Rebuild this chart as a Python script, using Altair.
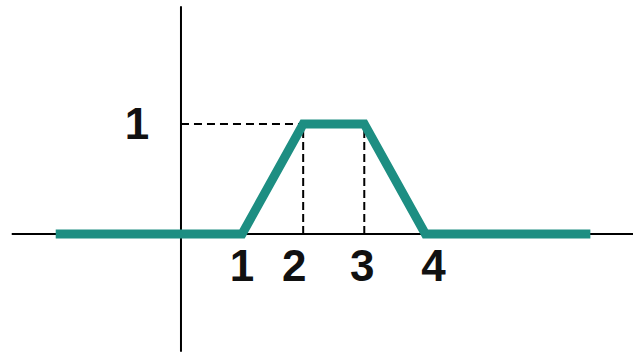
import altair as alt
import pandas as pd

# Trapezoidal membership function: (x, mu) corner points
mf_x = [-2.05, 1, 2, 3, 4, 6.7]
mf_y = [0, 0, 1, 1, 0, 0]

# Tick labels on the horizontal axis and on the vertical axis
x_ticks = [1, 2, 3, 4]
x_tick_labels = ["1", "2", "3", "4"]
y_ticks = [1]
y_tick_labels = ["1"]

# Guide lines from the plateau corners down to the axis and across to the y-axis
plateau_start, plateau_end, plateau_level = 2, 3, 1

# Visible extent of the drawn axes
X_DOMAIN = [-2.962, 7.398]
Y_DOMAIN = [-1.109, 2.127]
x_axis_span = (-2.77, 7.4)
y_axis_span = (-1.07, 2.07)

TEAL = "#1d8e82"
FONT = "Liberation Sans"

xs = alt.Scale(domain=X_DOMAIN, nice=False, zero=False)
ys = alt.Scale(domain=Y_DOMAIN, nice=False, zero=False)
X = lambda f: alt.X(f, type="quantitative", scale=xs, axis=None)
Y = lambda f: alt.Y(f, type="quantitative", scale=ys, axis=None)

axes_df = pd.DataFrame({
    "x": [x_axis_span[0], 0],
    "x2": [x_axis_span[1], 0],
    "y": [0, y_axis_span[0]],
    "y2": [0, y_axis_span[1]],
})
axes = alt.Chart(axes_df).mark_rule(color="black", strokeWidth=2).encode(
    x=X("x"), x2="x2", y=Y("y"), y2="y2"
)

guides_h = pd.DataFrame({"x": [0], "x2": [plateau_start], "y": [plateau_level], "y2": [plateau_level]})
guides_v = pd.DataFrame({
    "x": [plateau_start, plateau_end],
    "x2": [plateau_start, plateau_end],
    "y": [0, 0],
    "y2": [plateau_level, plateau_level],
})
dash_h = alt.Chart(guides_h).mark_rule(color="black", strokeWidth=2, strokeDash=[8, 5]).encode(
    x=X("x"), x2="x2", y=Y("y"), y2="y2"
)
dash_v = alt.Chart(guides_v).mark_rule(color="black", strokeWidth=2, strokeDash=[8, 4]).encode(
    x=X("x"), x2="x2", y=Y("y"), y2="y2"
)

mf_df = pd.DataFrame({"x": mf_x, "y": mf_y, "order": list(range(len(mf_x)))})
mf = alt.Chart(mf_df).mark_line(color=TEAL, strokeWidth=9, strokeJoin="miter", strokeCap="butt").encode(
    x=X("x"), y=Y("y"), order="order"
)

# Hand-set nudges of each x label relative to its tick
label_dx = [0, -9, -2, 8]
layers = [axes, dash_h, dash_v, mf]
for v, lab, dx in zip(x_ticks, x_tick_labels, label_dx):
    df = pd.DataFrame({"x": [v], "y": [0], "t": [lab]})
    layers.append(
        alt.Chart(df).mark_text(
            font=FONT, fontSize=44, fontWeight="bold", color="#111111",
            baseline="middle", align="center", dx=dx, dy=34,
        ).encode(x=X("x"), y=Y("y"), text="t")
    )

ydf = pd.DataFrame({"x": [0] * len(y_ticks), "y": y_ticks, "t": y_tick_labels})
layers.append(
    alt.Chart(ydf).mark_text(
        font=FONT, fontSize=44, fontWeight="bold", color="#111111",
        baseline="middle", align="center", dx=-44, dy=2,
    ).encode(x=X("x"), y=Y("y"), text="t")
)

chart = alt.layer(*layers).properties(
    width=633, height=356, padding=0, autosize=alt.AutoSizeParams(type="none"),
    background="white",
).configure_view(stroke=None)

chart.save("out.html", embed_options={"renderer": "svg", "actions": False})
